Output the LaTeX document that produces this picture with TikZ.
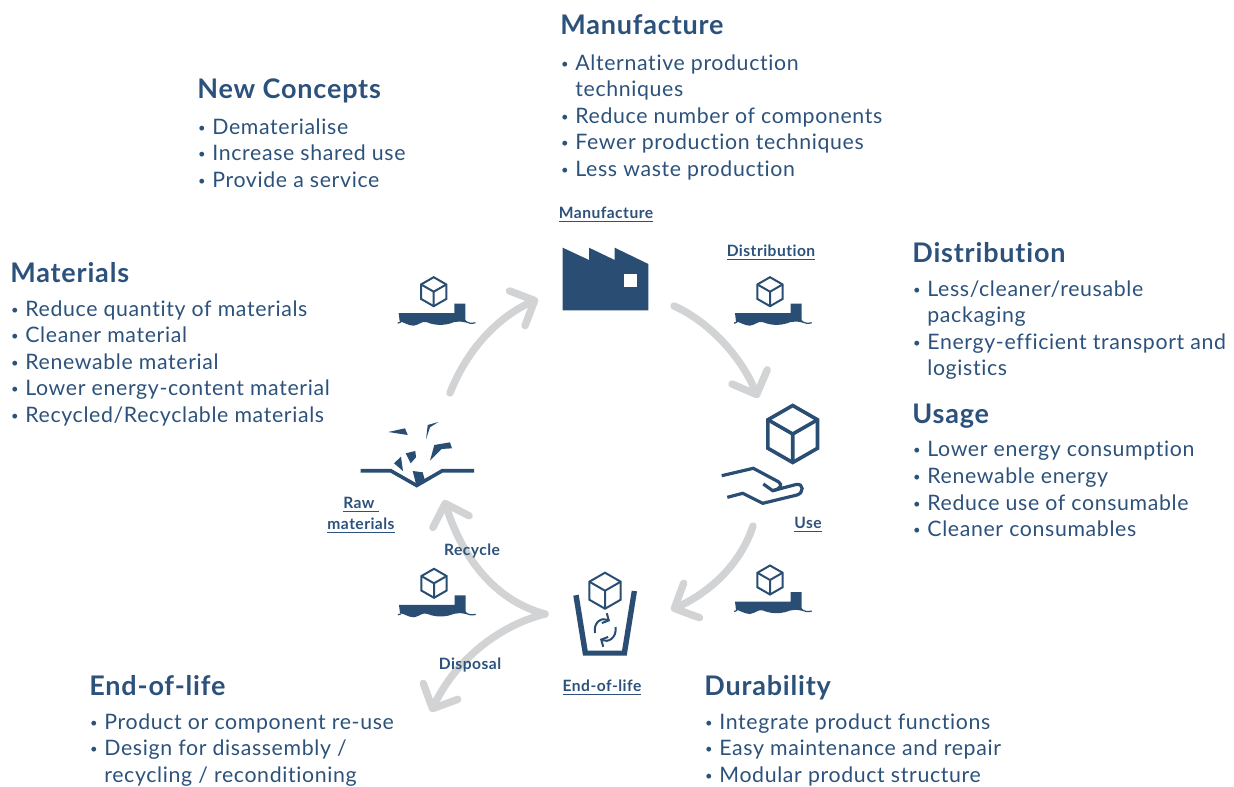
\documentclass[tikz,border=0pt]{standalone}
\usepackage{fontspec}
\setmainfont[LetterSpace=3,Ligatures=NoCommon]{Lato}
\usetikzlibrary{arrows.meta}
\definecolor{navy}{HTML}{294D73}
\definecolor{textnavy}{HTML}{2C527C}
\definecolor{cyclegrey}{HTML}{D1D3D4}
\newcommand{\blt}{\makebox[7.5pt][l]{\hspace{.4pt}\raisebox{1pt}{\fontsize{6.5}{6.5}\selectfont\textbullet}}}
\newcommand{\ind}{\hspace*{7.5pt}}
\tikzset{
  head/.style={anchor=base west,inner sep=0pt,text=textnavy,font=\fontsize{13.5}{15}\selectfont\bfseries},
  body/.style={anchor=north west,inner sep=0pt,text=textnavy,align=left,font=\fontsize{10.65}{13.3}\selectfont},
  tag/.style={inner sep=0pt,text=textnavy,align=center,font=\fontsize{7.8}{10.5}\selectfont\bfseries},
  cycle/.style={draw=cyclegrey,line width=3.7pt,line cap=round,-{Straight Barb[round,length=9.5pt,width=19pt]}},
  icon/.style={draw=navy,line join=miter},
  cubeicon/.pic={
    \draw[icon] (0,-1) -- (.87,-.5) -- (.87,.5) -- (0,1) -- (-.87,.5) -- (-.87,-.5) -- cycle;
    \draw[icon] (-.87,-.5) -- (0,0) -- (.87,-.5) (0,0) -- (0,1);
  },
  shipicon/.pic={
    \pic[scale=14.5,line width=1pt] {cubeicon};
    \fill[navy] (-35,21.5) -- (20.7,21.5) -- (20.7,12) -- (31.7,12) -- (31.7,28) -- (33,31)
      .. controls (27,29.5) and (24,29.5) .. (20,30.5)
      .. controls (14,33) and (4,35) .. (-7,30.5)
      .. controls (-12,29) and (-14,33) .. (-20,34)
      .. controls (-26,34) and (-30,30) .. (-34,30) -- cycle;
    \draw[navy,line width=.6pt] (-36,31.5) -- (-33,30.5) (31,29) .. controls (35,32) and (38,32) .. (41.7,31);
  }
}
\begin{document}
\begin{tikzpicture}[x=0.5pt,y=-0.5pt]
\useasboundingbox (0,0) rectangle (1234,786);
% cycle
\coordinate (rawOut) at (450,393);
\coordinate (manufactureIn) at (538,299);
\coordinate (manufactureOut) at (674,306);
\coordinate (useIn) at (758,398);
\coordinate (useOut) at (753,526);
\coordinate (lifeIn) at (671,610);
\coordinate (lifeOut) at (545,614);
\coordinate (rawIn) at (444,500);
\coordinate (disposalEnd) at (431,712);
\draw[cycle] (rawOut) .. controls (468,347) and (500,316) .. (manufactureIn);
\draw[cycle] (manufactureOut) .. controls (710,322) and (742,358) .. (useIn);
\draw[cycle] (useOut) .. controls (740,565) and (710,592) .. (lifeIn);
\draw[cycle] (lifeOut) .. controls (500,602) and (465,565) .. (rawIn);
\draw[cycle] (lifeOut) .. controls (500,625) and (455,660) .. (disposalEnd);
% text blocks
\node[head] (headManufacture) at (560,35) {Manufacture};
\node[body] (bodyManufacture) at (560,54) {\blt Alternative production\\\ind techniques\\\blt Reduce number of components\\\blt Fewer production techniques\\\blt Less waste production};
\node[head] (headConcepts) at (197,99) {New Concepts};
\node[body] (bodyConcepts) at (197,118) {\blt Dematerialise\\\blt Increase shared use\\\blt Provide a service};
\node[head] (headMaterials) at (10,282) {Materials};
\node[body] (bodyMaterials) at (10,300) {\blt Reduce quantity of materials\\\blt Cleaner material\\\blt Renewable material\\\blt Lower energy-content material\\\blt Recycled/Recyclable materials};
\node[head] (headDistribution) at (912,262) {Distribution};
\node[body] (bodyDistribution) at (912,280) {\blt Less/cleaner/reusable\\\ind packaging\\\blt Energy-efficient transport and\\\ind logistics};
\node[head] (headUsage) at (912,423) {Usage};
\node[body] (bodyUsage) at (912,441) {\blt Lower energy consumption\\\blt Renewable energy\\\blt Reduce use of consumable\\\blt Cleaner consumables};
\node[head] (headLife) at (89,695) {End-of-life};
\node[body] (bodyLife) at (89,713) {\blt Product or component re-use\\\blt Design for disassembly /\\\ind recycling / reconditioning};
\node[head] (headDurability) at (704,695) {Durability};
\node[body] (bodyDurability) at (704,713) {\blt Integrate product functions\\\blt Easy maintenance and repair\\\blt Modular product structure};
% small labels
\node[tag] (tagManufacture) at (606,215) {\underline{Manufacture}};
\node[tag] (tagDistribution) at (771,253) {\underline{Distribution}};
\node[tag] (tagRaw) at (361,515) {\underline{Raw\ }\\\underline{materials}};
\node[tag] (tagUse) at (808,525) {\underline{Use}};
\node[tag] (tagLife) at (602,688) {\underline{End-of-life}};
\node[tag] (tagRecycle) at (472,551) {Recycle};
\node[tag] (tagDisposal) at (470,665) {Disposal};
% ships
\pic (shipRaw) at (433.7,291.7) {shipicon};
\pic (shipDistribution) at (770,291.7) {shipicon};
\pic (shipRecycle) at (434,583.3) {shipicon};
\pic (shipDurability) at (770,580) {shipicon};
% factory
\fill[navy] (562.7,247.7) -- (589,260) -- (589,247.7) -- (614.7,260) -- (614.7,247.7) -- (648.3,264) -- (648.3,310.3) -- (562.7,310.3) -- cycle;
\fill[white] (624,274) rectangle (636.7,286.7);
% hand and big cube
\pic[scale=28.5,line width=1.8pt] (cubeUse) at (792.7,434) {cubeicon};
\draw[navy,line width=1.6pt] (721.7,475.7) -- (753.3,468.3) -- (778.3,481.7) .. controls (783,485) and (781,488.5) .. (772.7,490.7);
\draw[navy,line width=1.6pt] (763.3,484) -- (772.7,490.7) -- (796,484.5) .. controls (804,483) and (804,493) .. (797,495) -- (762.7,503.3) -- (742.7,493.3) -- (727.3,497.3);
% raw materials
\draw[navy,line width=1.8pt] (360.7,470.7) -- (390.7,470.7) -- (416.7,485.5) -- (442.3,470.7) -- (474,470.7);
\fill[navy] (412.7,471) -- (422.7,472.3) -- (425,480.7) -- (416.7,487) -- cycle;
\fill[navy] (388.3,432) -- (405,428.3) -- (407.7,435) -- cycle;
\fill[navy] (426,439.3) -- (427.7,425) -- (438.3,422) -- (430,427.3) -- cycle;
\fill[navy] (430,460.7) -- (434.3,445) -- (450,442.3) -- (452,448.3) -- (441.7,449) -- cycle;
\fill[navy] (405.7,453.3) -- (415.3,451) -- (416,457.3) -- (410.7,463.3) -- cycle;
\fill[navy] (394,463.3) -- (401,456.7) -- (403,471) -- cycle;
% bin
\pic[scale=18,line width=1pt] (cubeBin) at (605,590.7) {cubeicon};
\fill[navy] (573.3,595.7) -- (583,655.7) -- (626.7,655.7) -- (637,591.3) -- (631.7,590.7) -- (622,650.7) -- (587.7,650.7) -- (578.7,594.7) -- cycle;
\draw[navy,line width=1pt,-{Straight Barb[length=2.5pt,width=5.5pt]}] (595,633) .. controls (593,622) and (602,617) .. (610,621);
\draw[navy,line width=1pt,-{Straight Barb[length=2.5pt,width=5.5pt]}] (615.5,627) .. controls (617,638) and (608,643) .. (600,639);
\end{tikzpicture}
\end{document}
